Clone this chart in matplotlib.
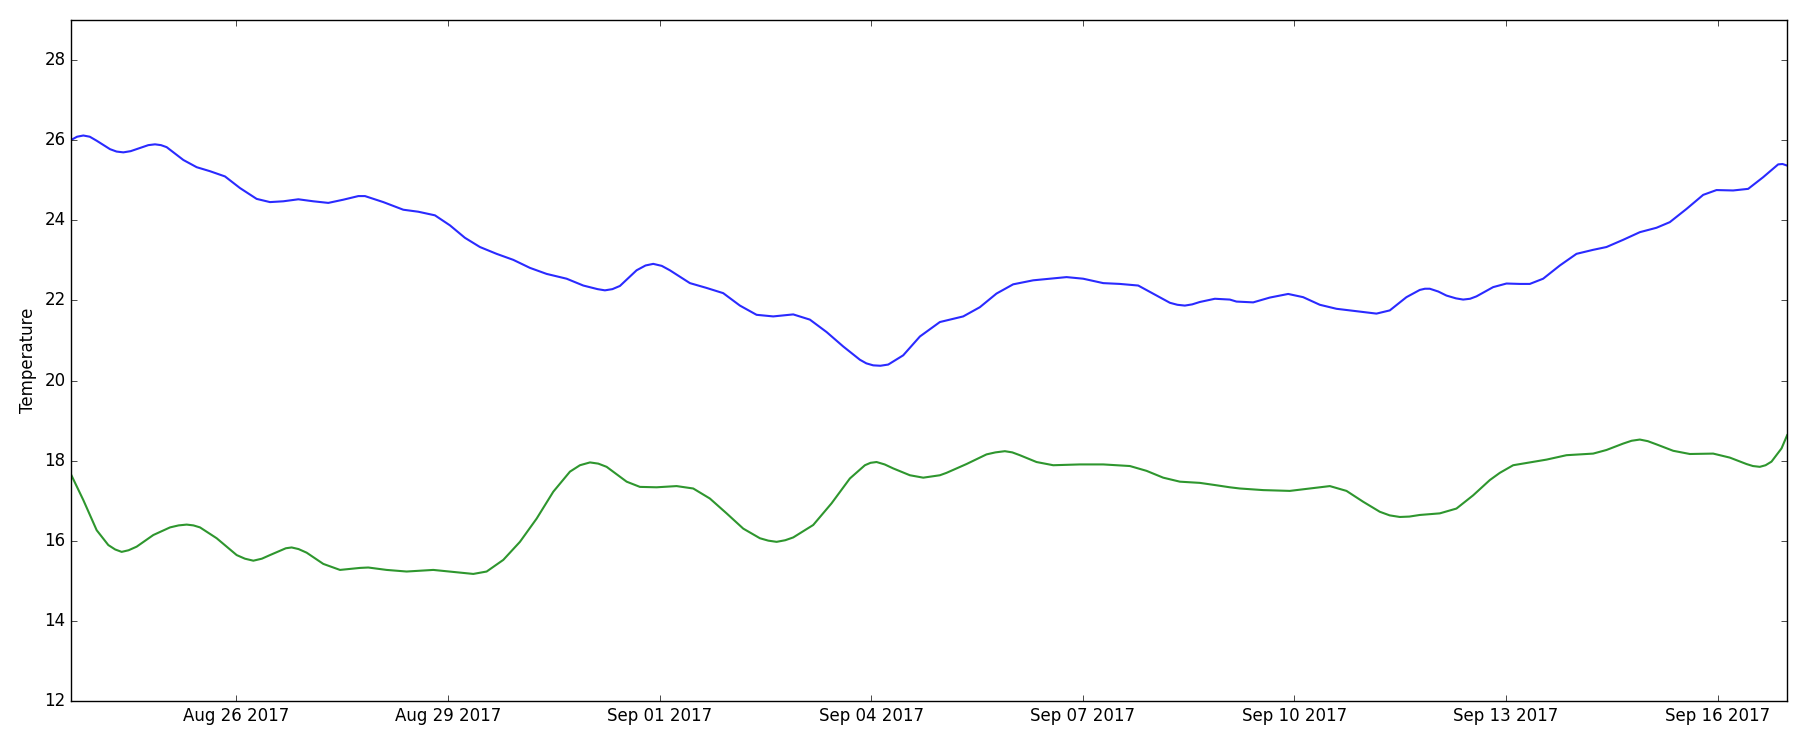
import numpy as np
import pandas as pd
import matplotlib
matplotlib.use("Agg")
import matplotlib.pyplot as plt
import matplotlib.dates as mdates

# dias desde 2017-08-23 00:00 y temperatura
dias_azul = [0.657, 0.829, 1.018, 1.207, 1.396, 1.632, 1.845, 2.010, 2.247, 2.436,
             2.625, 2.837, 3.050, 3.286, 3.475, 3.664, 3.877, 4.090, 4.302, 4.515,
             4.728, 4.822, 5.082, 5.365, 5.578, 5.814, 6.027, 6.239, 6.452, 6.688,
             6.925, 7.161, 7.397, 7.681, 7.917, 8.224, 8.437, 8.673, 8.909, 9.145,
             9.429, 9.665, 9.901, 10.138, 10.374, 10.610, 10.894, 11.130, 11.367, 11.603,
             11.839, 12.028, 12.241, 12.453, 12.690, 12.973, 13.020, 13.304, 13.540, 13.776,
             14.012, 14.296, 14.532, 14.769, 15.005, 15.289, 15.525, 15.785, 16.045, 16.234,
             16.446, 16.659, 16.872, 17.084, 17.178, 17.415, 17.651, 17.911, 18.123, 18.360,
             18.596, 18.880, 19.163, 19.352, 19.588, 19.777, 19.919, 20.155, 20.392, 20.581,
             20.817, 21.006, 21.195, 21.337, 21.526, 21.763, 21.999, 22.235, 22.424, 22.661,
             22.897, 23.133, 23.322, 23.559, 23.795, 23.984, 24.220, 24.433, 24.645, 24.858,
             24.986,
             # puntos extra en picos y valles
             0.74, 0.92, 1.30, 1.50, 1.75, 1.93, 8.12, 8.33, 8.80, 9.03,
             11.93, 12.13, 16.34, 16.55, 19.85, 20.04, 20.29, 20.49, 24.92]
temp_azul = [26.00, 26.11, 25.98, 25.77, 25.69, 25.80, 25.89, 25.82, 25.50, 25.32,
             25.22, 25.09, 24.80, 24.53, 24.45, 24.47, 24.52, 24.47, 24.43, 24.51,
             24.60, 24.60, 24.45, 24.26, 24.21, 24.12, 23.87, 23.56, 23.33, 23.16,
             23.01, 22.81, 22.66, 22.54, 22.37, 22.25, 22.36, 22.75, 22.91, 22.75,
             22.43, 22.31, 22.18, 21.87, 21.64, 21.60, 21.65, 21.52, 21.21, 20.85,
             20.52, 20.38, 20.40, 20.63, 21.10, 21.46, 21.48, 21.60, 21.83, 22.17,
             22.40, 22.50, 22.54, 22.58, 22.54, 22.43, 22.41, 22.37, 22.12, 21.94,
             21.87, 21.96, 22.04, 22.02, 21.97, 21.95, 22.07, 22.16, 22.08, 21.89,
             21.79, 21.73, 21.67, 21.75, 22.08, 22.26, 22.29, 22.12, 22.02, 22.10,
             22.33, 22.42, 22.41, 22.41, 22.54, 22.87, 23.16, 23.26, 23.33, 23.51,
             23.70, 23.81, 23.95, 24.28, 24.63, 24.75, 24.74, 24.78, 25.07, 25.39,
             25.36,
             26.08, 26.08, 25.71, 25.72, 25.87, 25.87, 22.28, 22.28, 22.87, 22.86,
             20.43, 20.37, 21.89, 21.90, 22.29, 22.22, 22.05, 22.04, 25.40]

dias_verde = [0.657, 0.829, 1.018, 1.183, 1.372, 1.585, 1.821, 2.058, 2.294, 2.483,
              2.719, 3.003, 3.239, 3.475, 3.782, 3.995, 4.231, 4.468, 4.751, 4.869,
              5.129, 5.412, 5.790, 6.074, 6.358, 6.547, 6.783, 7.019, 7.256, 7.492,
              7.728, 8.012, 8.248, 8.532, 8.720, 8.956, 9.240, 9.476, 9.712, 9.949,
              10.185, 10.421, 10.658, 10.894, 11.177, 11.437, 11.697, 11.910, 12.075, 12.312,
              12.548, 12.737, 12.973, 13.067, 13.351, 13.634, 13.894, 14.107, 14.343, 14.580,
              14.958, 15.289, 15.667, 15.903, 16.139, 16.376, 16.659, 16.895, 17.084, 17.226,
              17.556, 17.934, 18.218, 18.502, 18.738, 18.974, 19.210, 19.494, 19.777, 20.061,
              20.297, 20.534, 20.770, 20.912, 21.101, 21.337, 21.574, 21.857, 22.235, 22.424,
              22.661, 22.897, 23.133, 23.370, 23.606, 23.937, 24.173, 24.409, 24.598, 24.764,
              24.906, 24.986,
              # puntos extra en picos y valles
              1.28, 1.47, 2.18, 2.39, 3.12, 3.36, 3.70, 3.88, 7.87, 8.13,
              10.54, 10.78, 11.99, 12.19, 13.76, 14.00, 19.35, 19.63, 22.78, 23.01,
              24.50, 24.68]
temp_verde = [17.65, 17.02, 16.27, 15.90, 15.73, 15.86, 16.15, 16.34, 16.41, 16.34,
              16.07, 15.65, 15.51, 15.65, 15.84, 15.71, 15.43, 15.28, 15.33, 15.34,
              15.28, 15.24, 15.28, 15.23, 15.18, 15.24, 15.53, 15.98, 16.56, 17.23,
              17.73, 17.96, 17.85, 17.48, 17.35, 17.34, 17.37, 17.31, 17.06, 16.69,
              16.31, 16.07, 15.98, 16.09, 16.40, 16.94, 17.56, 17.89, 17.97, 17.81,
              17.64, 17.58, 17.64, 17.70, 17.92, 18.16, 18.24, 18.14, 17.97, 17.89,
              17.91, 17.91, 17.87, 17.75, 17.58, 17.48, 17.45, 17.39, 17.34, 17.31,
              17.27, 17.25, 17.31, 17.37, 17.25, 16.98, 16.73, 16.60, 16.65, 16.69,
              16.81, 17.14, 17.52, 17.70, 17.89, 17.96, 18.03, 18.14, 18.18, 18.27,
              18.43, 18.53, 18.41, 18.25, 18.17, 18.18, 18.08, 17.92, 17.85, 17.98,
              18.31, 18.64,
              15.79, 15.77, 16.39, 16.39, 15.56, 15.56, 15.82, 15.80, 17.89, 17.93,
              16.01, 16.02, 17.95, 17.91, 18.21, 18.21, 16.64, 16.61, 18.50, 18.49,
              17.87, 17.89]

ticks_fechas = ["2017-08-26", "2017-08-29", "2017-09-01", "2017-09-04",
                "2017-09-07", "2017-09-10", "2017-09-13", "2017-09-16"]

#-------------------------------------------------
# ordeno por tiempo y paso a fechas
origen = pd.Timestamp("2017-08-23")

def serie(dias, temps):
    orden = np.argsort(dias)
    t = origen + pd.to_timedelta(np.array(dias)[orden], unit="D")
    return t, np.array(temps)[orden]

t_azul, y_azul = serie(dias_azul, temp_azul)
t_verde, y_verde = serie(dias_verde, temp_verde)

#-------------------------------------------------
plt.style.use("classic")
fig = plt.figure(figsize=(18.12, 7.42), dpi=100, facecolor="white")
ax = fig.add_axes([0.0393, 0.0546, 0.9470, 0.9190])

ax.plot(t_azul, y_azul, color="#2a2aff", linewidth=1.5, solid_joinstyle="round")
ax.plot(t_verde, y_verde, color="#2e962e", linewidth=1.5, solid_joinstyle="round")

ax.set_xlim(t_azul[0], t_azul[-1])
ax.set_ylim(12, 29)
ax.set_yticks(np.arange(12, 29, 2))
ax.set_xticks(pd.to_datetime(ticks_fechas))
ax.xaxis.set_major_formatter(mdates.DateFormatter("%b %d %Y"))
ax.set_ylabel("Temperature", fontsize=12)
ax.tick_params(labelsize=12)

fig.savefig("out.png", dpi=100, facecolor="white")
